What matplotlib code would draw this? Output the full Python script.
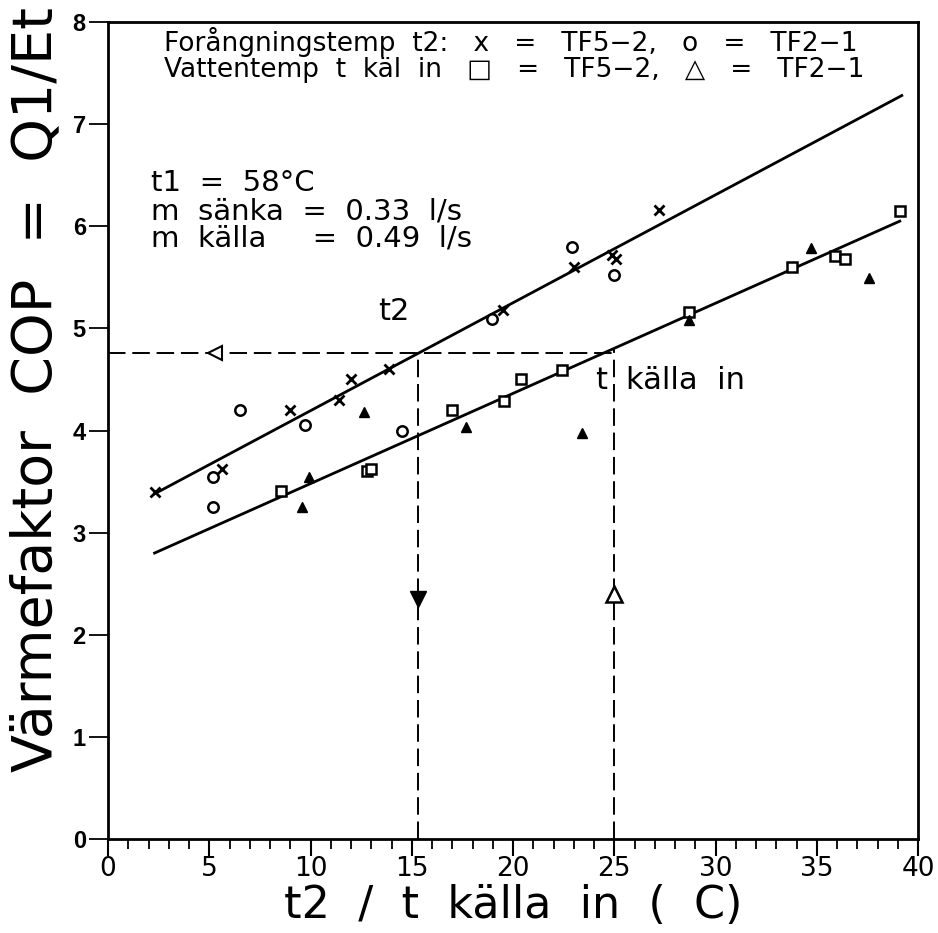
import matplotlib
matplotlib.use("Agg")
import matplotlib.pyplot as plt
from matplotlib import font_manager

# pick a narrow sans if there is one, the plotter font is tall and thin
names = set(f.name for f in font_manager.fontManager.ttflist)
if "Liberation Sans Narrow" in names:
	FONT = "Liberation Sans Narrow"
else:
	FONT = "DejaVu Sans"

# t2 (evaporating temp), x = TF5-2, o = TF2-1
t2_tf52_x = [2.3, 5.65, 9.0, 11.4, 12.0, 13.9, 19.5, 23.0, 24.9, 25.1, 27.2]
t2_tf52_y = [3.40, 3.62, 4.20, 4.30, 4.50, 4.60, 5.18, 5.60, 5.72, 5.68, 6.16]
t2_tf21_x = [5.2, 5.2, 6.5, 9.75, 14.5, 18.95, 22.9, 25.0]
t2_tf21_y = [3.54, 3.25, 4.20, 4.05, 4.00, 5.09, 5.80, 5.52]

# t kalla in (water temp), square = TF5-2, triangle = TF2-1
tk_tf52_x = [8.55, 12.8, 13.0, 16.97, 19.55, 20.4, 22.4, 28.7, 33.8, 35.9, 36.4, 39.1]
tk_tf52_y = [3.41, 3.60, 3.62, 4.20, 4.29, 4.50, 4.59, 5.16, 5.60, 5.71, 5.68, 6.15]
tk_tf21_x = [9.6, 9.95, 12.66, 17.7, 23.4, 28.7, 34.7, 37.6]
tk_tf21_y = [3.25, 3.54, 4.18, 4.03, 3.98, 5.08, 5.79, 5.49]

# fitted lines (end points)
fit_t2_x = [2.3, 39.2]
fit_t2_y = [3.38, 7.28]
fit_tk_x = [2.3, 39.1]
fit_tk_y = [2.80, 6.05]

# read-off construction
cop_read = 4.76
t2_read = 15.3
tk_read = 25.0

fig = plt.figure(figsize=(9.38, 9.33), dpi=100)
ax = fig.add_axes([108/938, 1-839/933, 810/938, 817/933])

ax.plot(fit_t2_x, fit_t2_y, color="black", lw=2)
ax.plot(fit_tk_x, fit_tk_y, color="black", lw=2)

ax.plot(t2_tf52_x, t2_tf52_y, "x", color="black", ms=6.5, mew=2)
ax.plot(t2_tf21_x, t2_tf21_y, "o", mfc="white", mec="black", ms=7.5, mew=1.8)
ax.plot(tk_tf52_x, tk_tf52_y, "s", mfc="white", mec="black", ms=6.5, mew=1.8)
ax.plot(tk_tf21_x, tk_tf21_y, "^", color="black", ms=7)

# dashed read-off lines
dash = (9, 3.5)
ax.plot([0, tk_read], [cop_read, cop_read], color="black", lw=1.4, dashes=dash)
ax.plot([t2_read, t2_read], [0, cop_read], color="black", lw=1.4, dashes=dash)
ax.plot([tk_read, tk_read], [0, cop_read + 0.04], color="black", lw=1.4, dashes=dash)
ax.plot([5.3], [cop_read], "<", mfc="white", mec="black", ms=10, mew=1.5)
ax.plot([t2_read], [2.35], "v", color="black", ms=12)
ax.plot([tk_read], [2.40], "^", mfc="white", mec="black", ms=11, mew=1.8)

ax.text(14.1, 5.17, "t2", fontsize=22, family=FONT, ha="center", va="center")
ax.text(24.35, 4.49, "t", fontsize=22, family=FONT, ha="center", va="center")
ax.text(25.6, 4.49, "källa  in", fontsize=22, family=FONT, ha="left", va="center")

ax.text(2.75, 7.80, "Forångningstemp  t2:   x   =   TF5−2,   o   =   TF2−1",
	fontsize=19, family=FONT, ha="left", va="center")
ax.text(2.75, 7.53, "Vattentemp  t  käl  in   □   =   TF5−2,   △   =   TF2−1",
	fontsize=19, family=FONT, ha="left", va="center")

ax.text(2.1, 6.42, "t1  =  58°C", fontsize=21, family=FONT, ha="left", va="center")
ax.text(2.1, 6.14, "m  sänka  =  0.33  l/s", fontsize=21, family=FONT, ha="left", va="center")
ax.text(2.1, 5.88, "m  källa     =  0.49  l/s", fontsize=21, family=FONT, ha="left", va="center")

ax.set_xlim(0, 40)
ax.set_ylim(0, 8)
ax.set_xticks(range(0, 41, 5))
ax.set_xticks(range(0, 41), minor=True)
ax.set_yticks(range(0, 9))
ax.tick_params(axis="x", which="major", direction="out", length=12, width=1.5,
	labelsize=19, pad=0)
ax.tick_params(axis="x", which="minor", direction="out", length=7, width=1.3)
ax.tick_params(axis="y", direction="out", length=14, width=1.3, labelsize=17, pad=2)
for lab in ax.get_xticklabels():
	lab.set_family(FONT)
for lab in ax.get_yticklabels():
	lab.set_family("Liberation Sans")
	lab.set_fontweight("bold")
for s in ax.spines.values():
	s.set_linewidth(2)

ax.set_xlabel("t2  /  t  källa  in  (  C)", fontsize=32, family=FONT)
ax.xaxis.set_label_coords(0.5, -0.055)
ax.set_ylabel("Värmefaktor  COP  =  Q1/Et", fontsize=40, family=FONT)
ax.yaxis.set_label_coords(-0.055, 0.55)

fig.savefig("out.png", dpi=100)
